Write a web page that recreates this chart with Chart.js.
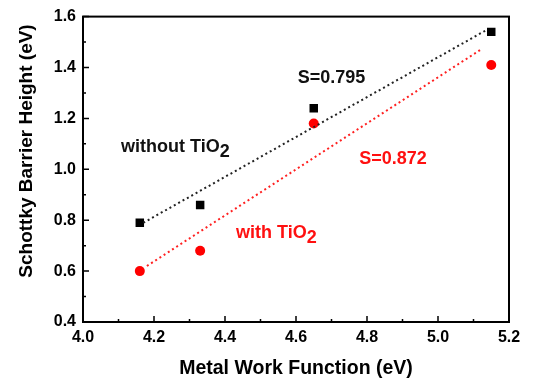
<!DOCTYPE html>
<html>
<head>
<meta charset="utf-8">
<script src="https://cdn.jsdelivr.net/npm/chart.js@4.4.1/dist/chart.umd.min.js"></script>
<style>
  html, body { margin: 0; padding: 0; background: #fff; }
  #wrap { width: 542px; height: 381px; }
</style>
</head>
<body>
<div id="wrap"><canvas id="chart" width="542" height="381"></canvas></div>
<script>
// Datos
const workFunction = [4.16, 4.33, 4.65, 5.15];
const withoutTiO2 = [0.79, 0.86, 1.24, 1.54];
const withTiO2 = [0.60, 0.68, 1.18, 1.41];

// Rectas de ajuste (extremos)
const fitWithoutX = [4.17, 5.14];
const fitWithoutY = [0.79, 1.55];
const fitWithX = [4.18, 5.12];
const fitWithY = [0.62, 1.47];

const xTicks = [4.0, 4.2, 4.4, 4.6, 4.8, 5.0, 5.2];
const yTicks = [0.4, 0.6, 0.8, 1.0, 1.2, 1.4, 1.6];

// Etiquetas dentro del gráfico
const notes = [
    { text: 'S=0.795', sub: '', x: 4.70, y: 1.36, color: '#111', align: 'center' },
    { text: 'without TiO', sub: '2', x: 4.107, y: 1.086, color: '#111', align: 'left' },
    { text: 'S=0.872', sub: '', x: 4.873, y: 1.039, color: '#ff1010', align: 'center' },
    { text: 'with TiO', sub: '2', x: 4.431, y: 0.749, color: '#ff1010', align: 'left' }
];

const yTitle = 'Schottky Barrier Height (eV)';

const FONT = '"Liberation Sans", Arial, sans-serif';

function pairs(xs, ys) {
    return xs.map((x, i) => ({ x: x, y: ys[i] }));
}

// Marco, marcas hacia dentro y textos
const framePlugin = {
    id: 'frame',
    afterDraw(chart) {
        const ctx = chart.ctx;
        const a = chart.chartArea;
        const xs = chart.scales.x;
        const ys = chart.scales.y;
        ctx.save();
        ctx.strokeStyle = '#000';
        ctx.lineWidth = 2;
        ctx.strokeRect(a.left, a.top, a.right - a.left, a.bottom - a.top);

        ctx.lineWidth = 1.5;
        ctx.beginPath();
        for (let i = 0; i < xTicks.length; i++) {
            const px = xs.getPixelForValue(xTicks[i]);
            ctx.moveTo(px, a.bottom);
            ctx.lineTo(px, a.bottom - 6);
            if (i < xTicks.length - 1) {
                const mx = xs.getPixelForValue((xTicks[i] + xTicks[i + 1]) / 2);
                ctx.moveTo(mx, a.bottom);
                ctx.lineTo(mx, a.bottom - 3);
            }
        }
        for (let i = 0; i < yTicks.length; i++) {
            const py = ys.getPixelForValue(yTicks[i]);
            ctx.moveTo(a.left, py);
            ctx.lineTo(a.left + 6, py);
            if (i < yTicks.length - 1) {
                const my = ys.getPixelForValue((yTicks[i] + yTicks[i + 1]) / 2);
                ctx.moveTo(a.left, my);
                ctx.lineTo(a.left + 3, my);
            }
        }
        ctx.stroke();

        ctx.font = 'bold 18px ' + FONT;
        ctx.textBaseline = 'middle';
        notes.forEach(n => {
            let px = xs.getPixelForValue(n.x);
            const py = ys.getPixelForValue(n.y);
            ctx.fillStyle = n.color;
            const w = ctx.measureText(n.text).width;
            const ws = n.sub ? ctx.measureText(n.sub).width : 0;
            if (n.align === 'center') px -= (w + ws) / 2;
            ctx.textAlign = 'left';
            ctx.fillText(n.text, px, py);
            if (n.sub) ctx.fillText(n.sub, px + w, py + 5);
        });

        // Título del eje Y (algo desplazado hacia arriba, como en la figura)
        ctx.translate(27, 151);
        ctx.rotate(-Math.PI / 2);
        ctx.fillStyle = '#000';
        ctx.font = 'bold 19px ' + FONT;
        ctx.textAlign = 'center';
        ctx.fillText(yTitle, 0, 0);
        ctx.restore();
    }
};

const ctx = document.getElementById('chart').getContext('2d');
new Chart(ctx, {
    type: 'scatter',
    data: {
        datasets: [
            {
                label: 'fit without',
                type: 'line',
                data: pairs(fitWithoutX, fitWithoutY),
                borderColor: '#222',
                borderWidth: 2,
                borderDash: [2, 3],
                pointRadius: 0,
                fill: false
            },
            {
                label: 'fit with',
                type: 'line',
                data: pairs(fitWithX, fitWithY),
                borderColor: '#ff2020',
                borderWidth: 2,
                borderDash: [2, 3],
                pointRadius: 0,
                fill: false
            },
            {
                label: 'without TiO2',
                data: pairs(workFunction, withoutTiO2),
                pointStyle: 'rect',
                pointRadius: 6,
                backgroundColor: '#000',
                borderColor: '#000',
                borderWidth: 0
            },
            {
                label: 'with TiO2',
                data: pairs(workFunction, withTiO2),
                pointStyle: 'circle',
                pointRadius: 5,
                backgroundColor: '#ff0000',
                borderColor: '#ff0000',
                borderWidth: 0
            }
        ]
    },
    options: {
        responsive: false,
        animation: false,
        layout: { padding: { top: 16, right: 33, left: 0, bottom: 0 } },
        plugins: {
            legend: { display: false },
            tooltip: { enabled: false }
        },
        scales: {
            x: {
                type: 'linear',
                min: 4.0,
                max: 5.2,
                afterFit(s) { s.height = 59; },
                afterBuildTicks(s) { s.ticks = xTicks.map(v => ({ value: v })); },
                grid: { display: false, drawTicks: false },
                border: { display: false },
                ticks: {
                    padding: 6,
                    color: '#000',
                    font: { family: FONT, size: 16, weight: 'bold' },
                    callback: v => v.toFixed(1)
                },
                title: {
                    display: true,
                    text: 'Metal Work Function (eV)',
                    color: '#000',
                    font: { family: FONT, size: 19.5, weight: 'bold' },
                    padding: { top: 1, bottom: 1 }
                }
            },
            y: {
                type: 'linear',
                min: 0.4,
                max: 1.6,
                afterFit(s) { s.width = 83; },
                afterBuildTicks(s) { s.ticks = yTicks.map(v => ({ value: v })); },
                grid: { display: false, drawTicks: false },
                border: { display: false },
                ticks: {
                    padding: 7,
                    color: '#000',
                    font: { family: FONT, size: 16, weight: 'bold' },
                    callback: v => v.toFixed(1)
                },
                title: { display: false }
            }
        }
    },
    plugins: [framePlugin]
});
</script>
</body>
</html>
